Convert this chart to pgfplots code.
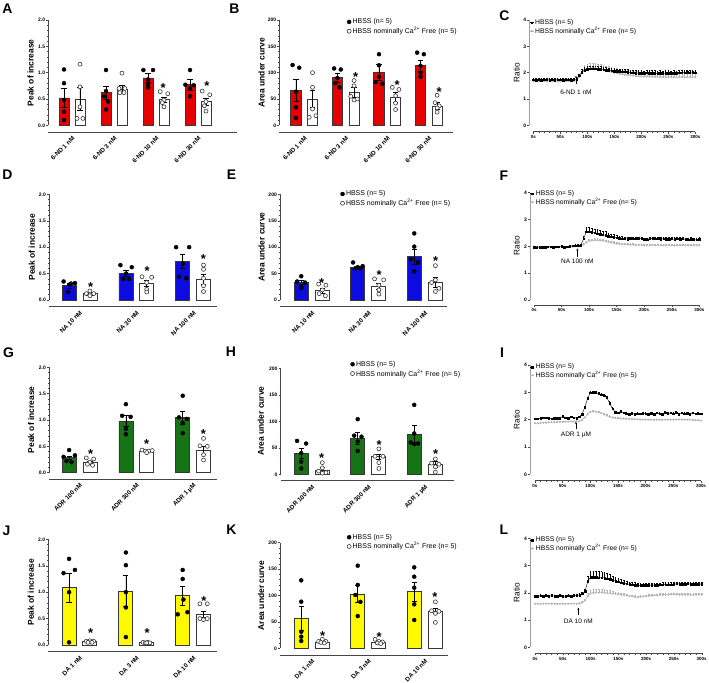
\documentclass[border=0pt]{standalone}
\usepackage{pgfplots}
\pgfplotsset{compat=1.18}
\usepackage{pgfplotstable}
\usepackage{fontspec}
\setmainfont{Liberation Sans}
\usetikzlibrary{arrows.meta}

\definecolor{barred}{RGB}{230,0,0}
\definecolor{barblue}{RGB}{12,12,225}
\definecolor{bargreen}{RGB}{22,115,22}
\definecolor{baryellow}{RGB}{255,250,0}
\definecolor{edge}{RGB}{55,55,55}
\definecolor{axc}{RGB}{70,70,70}
\definecolor{axl}{RGB}{160,160,160}
\definecolor{gser}{RGB}{180,180,180}

\newcommand{\fsz}[1]{\fontsize{#1}{#1}\selectfont}
\newcommand{\cafree}{HBSS nominally Ca\textsuperscript{2+} Free (n= 5)}

% ---------- time courses: t, HBSS mean/SEM, Ca-free mean/SEM ----------
\pgfplotstableread{
t b be g ge
0 1.73 0.06 1.68 0.10
5 1.72 0.06 1.68 0.10
10 1.73 0.06 1.67 0.10
15 1.72 0.06 1.68 0.10
20 1.73 0.06 1.68 0.10
25 1.73 0.06 1.67 0.10
30 1.72 0.06 1.68 0.10
35 1.73 0.06 1.68 0.10
40 1.72 0.06 1.68 0.10
45 1.73 0.06 1.68 0.10
50 1.73 0.06 1.67 0.10
55 1.72 0.06 1.68 0.10
60 1.73 0.06 1.68 0.10
65 1.73 0.06 1.68 0.10
70 1.72 0.06 1.68 0.10
75 1.73 0.06 1.68 0.10
80 1.76 0.07 1.72 0.10
85 1.88 0.08 1.84 0.12
90 2.02 0.10 2.00 0.15
95 2.10 0.10 2.10 0.18
100 2.14 0.10 2.15 0.18
105 2.15 0.10 2.17 0.18
110 2.15 0.10 2.17 0.18
115 2.15 0.10 2.17 0.18
120 2.14 0.10 2.15 0.18
125 2.13 0.10 2.13 0.18
130 2.11 0.10 2.10 0.18
135 2.10 0.10 2.08 0.18
140 2.09 0.10 2.05 0.18
145 2.07 0.10 2.02 0.18
150 2.06 0.10 2.00 0.18
155 2.05 0.10 1.98 0.18
160 2.05 0.10 1.96 0.18
165 2.04 0.10 1.94 0.18
170 2.03 0.10 1.92 0.18
175 2.02 0.10 1.91 0.18
180 2.00 0.10 1.90 0.18
185 1.99 0.10 1.88 0.18
190 1.98 0.10 1.87 0.18
195 1.98 0.10 1.86 0.18
200 1.98 0.10 1.86 0.18
205 1.97 0.10 1.85 0.18
210 1.99 0.10 1.85 0.18
215 1.98 0.10 1.85 0.18
220 1.98 0.10 1.84 0.18
225 1.98 0.10 1.84 0.18
230 1.97 0.10 1.84 0.18
235 1.98 0.10 1.83 0.18
240 1.97 0.10 1.83 0.18
245 1.98 0.10 1.83 0.18
250 1.98 0.10 1.83 0.18
255 1.97 0.10 1.83 0.18
260 1.98 0.10 1.83 0.18
265 1.97 0.10 1.83 0.18
270 1.99 0.10 1.83 0.18
275 2.00 0.10 1.83 0.18
280 2.00 0.10 1.83 0.18
285 2.01 0.10 1.83 0.18
290 2.00 0.10 1.83 0.18
295 2.01 0.10 1.83 0.18
300 2.00 0.10 1.83 0.18
}\tabC

\pgfplotstableread{
t b be g ge
0 1.97 0.04 1.97 0.03
5 1.95 0.04 1.96 0.03
10 1.96 0.04 1.96 0.03
15 1.96 0.04 1.96 0.03
20 1.97 0.04 1.97 0.03
25 1.98 0.04 1.97 0.03
30 1.98 0.04 1.97 0.03
35 1.97 0.04 1.97 0.03
40 1.98 0.04 1.98 0.03
45 1.98 0.04 1.98 0.03
50 2.00 0.04 1.98 0.03
55 1.97 0.04 1.98 0.03
60 1.98 0.04 1.98 0.03
65 2.00 0.04 1.99 0.03
70 2.02 0.04 1.99 0.03
75 2.03 0.04 2.00 0.03
80 2.03 0.04 2.00 0.03
85 2.05 0.05 2.02 0.04
90 2.28 0.10 2.07 0.05
95 2.55 0.15 2.15 0.06
100 2.55 0.15 2.20 0.06
105 2.53 0.15 2.22 0.06
110 2.51 0.15 2.23 0.06
115 2.48 0.15 2.23 0.06
120 2.46 0.15 2.22 0.06
125 2.43 0.15 2.21 0.06
130 2.41 0.15 2.19 0.06
135 2.38 0.12 2.17 0.06
140 2.36 0.10 2.14 0.06
145 2.34 0.10 2.12 0.06
150 2.32 0.10 2.10 0.05
155 2.30 0.08 2.09 0.05
160 2.29 0.08 2.08 0.05
165 2.28 0.08 2.08 0.05
170 2.27 0.08 2.07 0.05
175 2.30 0.06 2.06 0.05
180 2.28 0.06 2.06 0.05
185 2.30 0.06 2.05 0.05
190 2.28 0.06 2.05 0.05
195 2.30 0.06 2.05 0.05
200 2.26 0.06 2.04 0.05
205 2.25 0.06 2.04 0.05
210 2.29 0.06 2.04 0.05
215 2.30 0.06 2.05 0.05
220 2.28 0.06 2.04 0.05
225 2.30 0.06 2.05 0.05
230 2.27 0.06 2.04 0.05
235 2.28 0.06 2.04 0.05
240 2.27 0.06 2.04 0.05
245 2.27 0.06 2.05 0.05
250 2.28 0.06 2.04 0.05
255 2.27 0.06 2.03 0.05
260 2.28 0.06 2.04 0.05
265 2.27 0.06 2.04 0.05
270 2.28 0.06 2.04 0.05
275 2.26 0.06 2.04 0.05
280 2.24 0.06 2.04 0.05
285 2.27 0.06 2.04 0.05
290 2.25 0.06 2.04 0.05
295 2.24 0.06 2.04 0.05
300 2.27 0.06 2.05 0.05
}\tabF

\pgfplotstableread{
t b be g ge
0 2.03 0.03 1.87 0.02
5 2.04 0.03 1.87 0.02
10 2.05 0.03 1.88 0.02
15 2.08 0.03 1.89 0.02
20 2.07 0.03 1.89 0.02
25 2.05 0.03 1.90 0.02
30 2.04 0.03 1.91 0.02
35 2.05 0.03 1.91 0.02
40 2.06 0.03 1.91 0.02
45 2.06 0.03 1.92 0.02
50 2.12 0.03 1.92 0.02
55 2.08 0.03 1.92 0.02
60 2.05 0.03 1.93 0.02
65 2.10 0.03 1.93 0.02
70 2.08 0.03 1.93 0.02
75 2.06 0.03 1.94 0.02
80 2.10 0.03 1.94 0.02
85 2.20 0.04 1.98 0.03
90 2.45 0.05 2.08 0.03
95 2.78 0.06 2.20 0.04
100 2.98 0.06 2.28 0.04
105 3.00 0.06 2.30 0.04
110 2.98 0.06 2.29 0.04
115 2.95 0.06 2.27 0.04
120 2.92 0.06 2.24 0.04
125 2.88 0.06 2.19 0.04
130 2.80 0.06 2.15 0.04
135 2.60 0.06 2.11 0.04
140 2.40 0.05 2.08 0.03
145 2.28 0.04 2.06 0.03
150 2.25 0.04 2.05 0.03
155 2.30 0.04 2.04 0.03
160 2.25 0.04 2.04 0.03
165 2.22 0.04 2.03 0.03
170 2.20 0.04 2.03 0.03
175 2.24 0.04 2.02 0.02
180 2.20 0.04 2.02 0.02
185 2.22 0.04 2.01 0.02
190 2.21 0.04 2.01 0.02
195 2.22 0.04 2.00 0.02
200 2.22 0.04 2.00 0.02
205 2.20 0.04 2.00 0.02
210 2.24 0.04 2.00 0.02
215 2.20 0.04 1.99 0.02
220 2.25 0.04 2.00 0.02
225 2.22 0.04 2.00 0.02
230 2.20 0.04 1.99 0.02
235 2.26 0.04 2.00 0.02
240 2.22 0.04 2.00 0.02
245 2.25 0.04 2.00 0.02
250 2.22 0.04 2.00 0.02
255 2.26 0.04 2.00 0.02
260 2.20 0.04 2.01 0.02
265 2.25 0.04 2.00 0.02
270 2.22 0.04 2.00 0.02
275 2.24 0.04 2.00 0.02
280 2.20 0.04 2.00 0.02
285 2.25 0.04 1.99 0.02
290 2.21 0.04 1.98 0.02
295 2.22 0.04 1.98 0.02
300 2.21 0.04 1.97 0.02
}\tabI

\pgfplotstableread{
t b be g ge
0 1.88 0.05 1.60 0.03
5 1.88 0.05 1.60 0.03
10 1.89 0.05 1.59 0.03
15 1.88 0.05 1.60 0.03
20 1.90 0.05 1.60 0.03
25 1.88 0.05 1.60 0.03
30 1.89 0.05 1.60 0.03
35 1.88 0.05 1.60 0.03
40 1.88 0.05 1.59 0.03
45 1.89 0.05 1.60 0.03
50 1.88 0.05 1.60 0.03
55 1.88 0.05 1.59 0.03
60 1.89 0.05 1.60 0.03
65 1.88 0.05 1.60 0.03
70 1.89 0.05 1.60 0.03
75 1.90 0.05 1.60 0.03
80 1.92 0.05 1.61 0.03
85 1.97 0.06 1.64 0.04
90 2.05 0.10 1.72 0.05
95 2.42 0.18 1.88 0.10
100 2.57 0.22 1.98 0.12
105 2.57 0.22 2.00 0.12
110 2.57 0.22 2.01 0.12
115 2.56 0.22 2.01 0.12
120 2.56 0.22 2.01 0.12
125 2.54 0.22 2.00 0.12
130 2.52 0.20 1.99 0.10
135 2.50 0.18 1.98 0.10
140 2.46 0.16 1.97 0.08
145 2.43 0.15 1.96 0.08
150 2.40 0.14 1.95 0.08
155 2.37 0.12 1.93 0.06
160 2.35 0.10 1.92 0.06
165 2.33 0.10 1.90 0.06
170 2.31 0.10 1.88 0.05
175 2.30 0.10 1.87 0.05
180 2.28 0.10 1.85 0.05
185 2.27 0.10 1.84 0.05
190 2.27 0.08 1.86 0.05
195 2.27 0.08 1.87 0.05
200 2.27 0.08 1.88 0.05
205 2.27 0.08 1.89 0.05
210 2.28 0.08 1.90 0.05
215 2.28 0.08 1.91 0.05
220 2.28 0.08 1.91 0.05
225 2.29 0.08 1.92 0.05
230 2.30 0.08 1.92 0.05
235 2.30 0.08 1.93 0.05
240 2.30 0.08 1.93 0.05
245 2.30 0.08 1.94 0.05
250 2.31 0.08 1.94 0.05
255 2.33 0.08 1.94 0.05
260 2.32 0.08 1.93 0.05
265 2.31 0.08 1.93 0.05
270 2.32 0.08 1.93 0.05
275 2.33 0.08 1.93 0.05
280 2.32 0.08 1.92 0.05
285 2.31 0.08 1.92 0.05
290 2.32 0.08 1.93 0.05
295 2.31 0.08 1.93 0.05
300 2.32 0.08 1.93 0.05
}\tabL

\pgfplotsset{
  panel/.style={scale only axis, clip=false, axis line style={draw=none},
    tick align=outside, ytick pos=left, xtick pos=bottom,
    major tick length=2bp, minor tick length=1.2bp,
    tick style={axc, line width=0.4bp},
    yticklabel style={font=\fsz{5}\bfseries, inner sep=1bp},
  },
  barpanel/.style={panel,
    xticklabel style={font=\fsz{6.3}\bfseries, rotate=45, anchor=north east, inner sep=1bp},
    every x tick/.style={draw=none},
    minor y tick num=4,
    ylabel style={font=\fsz{8.5}\bfseries, anchor=center},
    legend style={draw=none, fill=none, font=\fsz{7}, anchor=north west,
      row sep=-1bp, inner sep=0pt, nodes={inner sep=1.5bp}},
    legend cell align=left,
    legend image code/.code={\draw[mark repeat=2,mark phase=2,##1] plot coordinates {(0cm,0cm) (0.08cm,0cm) (0.16cm,0cm)};},
  },
  peak/.style={barpanel, ymin=#1, ymax=2, ytick={0,0.5,1,1.5,2},
    yticklabels={0.0,0.5,1.0,1.5,2.0}, ylabel={Peak of increase}},
  auc/.style={barpanel, ymin=#1, ymax=200, ytick={0,50,100,150,200},
    yticklabels={0,50,100,150,200}, ylabel={Area under curve}},
  tpanel/.style={panel, xmax=300, ymax=4,
    xtick={0,50,...,300}, xticklabels={0s,50s,100s,150s,200s,250s,300s},
    xticklabel style={font=\fsz{4.5}\bfseries, inner sep=1.5bp},
    minor x tick num=4,
    ytick={0,1,2,3,4}, yticklabels={0,1,2,3,4},
    ylabel={Ratio}, ylabel style={font=\fsz{8.3}, anchor=center},
    legend style={draw=none, fill=none, font=\fsz{6.8}, anchor=north west,
      row sep=-1.5bp, inner sep=0pt, nodes={inner sep=1.3bp}},
    legend cell align=left, reverse legend,
    legend image code/.code={\draw[mark repeat=2,mark phase=2,##1] plot coordinates {(0cm,0cm) (0.07cm,0cm) (0.14cm,0cm)};},
  },
  bars/.style={ybar, forget plot, bar width=#1, bar shift=0pt, draw=edge, line width=0.8bp,
    error bars/y dir=both, error bars/y explicit,
    error bars/error bar style={black, line width=0.6bp},
    error bars/error mark options={rotate=90, mark size=2.6bp, line width=0.6bp, black}},
  fdot/.style={only marks, mark=*, mark size=2bp, mark options={fill=black, draw=black}},
  odot/.style={only marks, mark=*, mark size=2bp, mark options={fill=white, draw=edge, line width=0.6bp}},
  star/.style={forget plot, draw=none, mark=none, nodes near coords={*},
    nodes near coords style={font=\fsz{13}\bfseries, anchor=center, yshift=-2.5bp, inner sep=0pt}},
  hbss/.style={black, line width=0.4bp, mark=square*, mark size=0.75bp,
    error bars/y dir=plus, error bars/y explicit,
    error bars/error bar style={black, line width=0.25bp},
    error bars/error mark options={rotate=90, mark size=0.8bp, line width=0.25bp, black}},
  cfree/.style={gser, line width=0.4bp, mark=*, mark size=0.85bp,
    error bars/y dir=plus, error bars/y explicit,
    error bars/error bar style={gser, line width=0.25bp},
    error bars/error mark options={rotate=90, mark size=0.8bp, line width=0.25bp, gser}},
}

% axis lines of the bar panels: y axis from 0 up, x axis offset below
\newcommand{\baraxes}{%
  \draw[axc, line width=0.6bp] ({rel axis cs:0,0}|-{axis cs:1,0}) -- (rel axis cs:0,1);
  \draw[axc, line width=0.6bp] (rel axis cs:0,0) -- (rel axis cs:1,0);}
\newcommand{\taxes}{%
  \draw[axl, line width=0.6bp] ({rel axis cs:0,0}|-{axis cs:0,0}) -- (rel axis cs:0,1);
  \draw[axc, line width=0.6bp] ({axis cs:0,0}|-{rel axis cs:0,0}) -- ({axis cs:300,0}|-{rel axis cs:0,0});}

\begin{document}
\begin{tikzpicture}
\path[use as bounding box] (0,0) rectangle (709bp,683bp);

% panel letters
\begin{scope}[every node/.style={font=\fsz{14}\bfseries, inner sep=0pt, anchor=center}]
\node at (7.5bp,674.5bp) {A};
\node at (234.5bp,674.5bp) {B};
\node at (504.5bp,667.7bp) {C};
\node at (7.5bp,508.5bp) {D};
\node at (231.5bp,508.7bp) {E};
\node at (503.8bp,507.2bp) {F};
\node at (8.5bp,330bp) {G};
\node at (231bp,331bp) {H};
\node at (502bp,330.7bp) {I};
\node at (6.5bp,152bp) {J};
\node at (231.5bp,153bp) {K};
\node at (503.8bp,153.3bp) {L};
\end{scope}

% ===================== A =====================
\begin{axis}[peak=-0.133, at={(48.3bp,550.7bp)}, anchor=south west,
  width=188.2bp, height=112.3bp, xmin=0.436, xmax=4.917,
  xtick={1,2,3,4}, xticklabels={6-ND 1 nM,6-ND 3 nM,6-ND 10 nM,6-ND 30 nM},
  ylabel style={at={(axis description cs:-0.0935,0.53)}}]
\baraxes
\addplot[bars=10bp, fill=barred] coordinates
  {(0.81,0.52)+-(0,0.18) (1.81,0.62)+-(0,0.12) (2.81,0.90)+-(0,0.08) (3.81,0.77)+-(0,0.10)};
\addplot[bars=10bp, fill=white] coordinates
  {(1.19,0.50)+-(0,0.22) (2.19,0.69)+-(0,0.07) (3.19,0.49)+-(0,0.05) (4.19,0.45)+-(0,0.07)};
\addplot[fdot, forget plot] coordinates {
  (0.81,1.06) (0.81,0.80) (0.81,0.48) (0.81,0.26) (0.81,0.10)
  (1.81,1.05) (1.81,0.65) (1.76,0.55) (1.86,0.45) (1.81,0.30)
  (2.70,1.05) (2.93,1.05) (2.81,0.87) (2.81,0.78) (2.81,0.72)
  (3.81,1.05) (3.70,0.77) (3.90,0.76) (3.81,0.70) (3.81,0.55)};
\addplot[odot, forget plot] coordinates {
  (1.19,1.16) (1.19,0.73) (1.19,0.35) (1.12,0.13) (1.26,0.13)
  (2.19,0.99) (2.12,0.70) (2.26,0.70) (2.14,0.62) (2.24,0.62)
  (3.10,0.64) (3.28,0.60) (3.19,0.48) (3.15,0.43) (3.19,0.35)
  (4.10,0.65) (4.28,0.58) (4.19,0.45) (4.15,0.37) (4.19,0.27)};
\addplot[star] coordinates {(3.17,0.76) (4.21,0.79)};
\end{axis}

% ===================== B =====================
\begin{axis}[auc=-13.3, at={(279.3bp,550.7bp)}, anchor=south west,
  width=173.4bp, height=112.3bp, xmin=0.400, xmax=4.575,
  xtick={1,2,3,4}, xticklabels={6-ND 1 nM,6-ND 3 nM,6-ND 10 nM,6-ND 30 nM},
  ylabel style={at={(axis description cs:-0.1015,0.53)}},
  legend style={at={(axis description cs:0.39,1.027)}}]
\baraxes
\addplot[bars=10.3bp, fill=barred] coordinates
  {(0.8,66.4)+-(0,20.5) (1.8,90.4)+-(0,8) (2.8,100.6)+-(0,15) (3.8,113.3)+-(0,10.7)};
\addplot[bars=10.3bp, fill=white] coordinates
  {(1.2,50)+-(0,16) (2.2,62.6)+-(0,9.5) (3.2,53.2)+-(0,8.8) (4.2,36.7)+-(0,6.3)};
\addplot[fdot] coordinates {
  (0.72,114.5) (0.88,109.4) (0.8,63.8) (0.8,34.2) (0.8,13.9)
  (1.72,108) (1.88,106) (1.8,90) (1.75,80) (1.85,72)
  (2.8,135) (2.8,114) (2.8,92) (2.72,82) (2.88,79)
  (3.72,138) (3.88,135) (3.8,113) (3.8,100) (3.8,92)};
\addlegendentry{HBSS (n= 5)}
\addplot[odot] coordinates {
  (1.2,99.9) (1.2,72.2) (1.2,31) (1.12,15.2) (1.28,18.2)
  (2.2,85) (2.2,75) (2.12,55) (2.28,50) (2.2,48)
  (3.12,72) (3.28,68) (3.2,56) (3.2,42) (3.2,30)
  (4.2,57) (4.15,43) (4.25,37) (4.2,33) (4.2,25)};
\addlegendentry{\cafree}
\addplot[star] coordinates {(2.24,97) (3.24,81) (4.25,67)};
\end{axis}

% ===================== C =====================
\begin{axis}[tpanel, at={(529.3bp,551.3bp)}, anchor=south west,
  width=166bp, height=111.7bp, xmin=-7.4, ymin=-0.243,
  ylabel style={at={(axis description cs:-0.076,0.53)}},
  legend style={at={(axis description cs:0.0,1.018)}}]
\taxes
\addplot[cfree] table[x=t, y=g, y error=ge] {\tabC};
\addlegendentry{\cafree}
\addplot[hbss] table[x=t, y=b, y error=be] {\tabC};
\addlegendentry{HBSS (n= 5)}
\draw[-{Stealth[length=2bp,width=2bp]}, line width=0.4bp] (axis cs:79,1.55) -- (axis cs:79,1.88);
\node[font=\fsz{6.5}] at (axis cs:79,1.25) {6-ND 1 nM};
\end{axis}

% ===================== D =====================
\begin{axis}[peak=-0.127, at={(49bp,376.3bp)}, anchor=south west,
  width=167.7bp, height=112.4bp, xmin=0.463, xmax=3.415,
  xtick={1,2,3}, xticklabels={NA 10 nM,NA 30 nM,NA 100 nM},
  ylabel style={at={(axis description cs:-0.103,0.53)}}]
\baraxes
\addplot[bars=14bp, fill=barblue] coordinates
  {(0.817,0.27)+-(0,0.04) (1.817,0.505)+-(0,0.05) (2.817,0.726)+-(0,0.13)};
\addplot[bars=14bp, fill=white] coordinates
  {(1.183,0.12)+-(0,0.03) (2.183,0.31)+-(0,0.06) (3.183,0.39)+-(0,0.10)};
\addplot[fdot, forget plot] coordinates {
  (0.72,0.35) (0.85,0.31) (0.92,0.32) (0.82,0.29) (0.80,0.15)
  (1.72,0.66) (1.92,0.62) (1.82,0.50) (1.77,0.40) (1.87,0.40)
  (2.70,1.00) (2.93,1.00) (2.82,0.69) (2.75,0.44) (2.88,0.41)};
\addplot[odot, forget plot] coordinates {
  (1.183,0.17) (1.12,0.12) (1.25,0.12) (1.183,0.10) (1.183,0.08)
  (2.10,0.44) (2.27,0.43) (2.183,0.33) (2.183,0.20) (2.183,0.15)
  (3.183,0.66) (3.183,0.58) (3.183,0.41) (3.183,0.27) (3.183,0.16)};
\addplot[star] coordinates {(1.197,0.30) (2.19,0.59) (3.18,0.82)};
\end{axis}

% ===================== E =====================
\begin{axis}[auc=-12.7, at={(280bp,376.3bp)}, anchor=south west,
  width=166.7bp, height=112.4bp, xmin=0.437, xmax=3.387,
  xtick={1,2,3}, xticklabels={NA 10 nM,NA 30 nM,NA 100 nM},
  ylabel style={at={(axis description cs:-0.110,0.53)}},
  legend style={at={(axis description cs:0.362,1.047)}}]
\baraxes
\addplot[bars=14bp, fill=barblue] coordinates
  {(0.813,33)+-(0,4) (1.813,62)+-(0,2.5) (2.813,82)+-(0,14)};
\addplot[bars=14bp, fill=white] coordinates
  {(1.187,18)+-(0,4.5) (2.187,26)+-(0,5) (3.187,33)+-(0,9)};
\addplot[fdot] coordinates {
  (0.813,45) (0.74,35) (0.88,33) (0.813,25) (0.813,23)
  (1.73,71) (1.90,64) (1.813,62) (1.77,60) (1.86,60)
  (2.813,126) (2.813,101) (2.75,77) (2.88,71) (2.813,54)};
\addlegendentry{HBSS (n= 5)}
\addplot[odot] coordinates {
  (1.12,30) (1.25,28) (1.187,19) (1.13,12) (1.24,8)
  (2.11,40) (2.27,38) (2.187,28) (2.187,19) (2.187,11)
  (3.187,65) (3.187,38) (3.12,33) (3.25,22) (3.187,16)};
\addlegendentry{\cafree}
\addplot[star] coordinates {(1.175,37) (2.19,52) (3.19,79)};
\end{axis}

% ===================== F =====================
\begin{axis}[tpanel, at={(530bp,378bp)}, anchor=south west,
  width=169.3bp, height=112.3bp, xmin=-7.3, ymin=-0.186,
  ylabel style={at={(axis description cs:-0.0786,0.53)}},
  legend style={at={(axis description cs:0.0,1.033)}}]
\taxes
\addplot[cfree] table[x=t, y=g, y error=ge] {\tabF};
\addlegendentry{\cafree}
\addplot[hbss] table[x=t, y=b, y error=be] {\tabF};
\addlegendentry{HBSS (n= 5)}
\draw[-{Stealth[length=2bp,width=2bp]}, line width=0.4bp] (axis cs:78.6,1.62) -- (axis cs:78.6,1.92);
\node[font=\fsz{6.5}] at (axis cs:78.6,1.43) {NA 100 nM};
\end{axis}

% ===================== G =====================
\begin{axis}[peak=-0.12, at={(49bp,204bp)}, anchor=south west,
  width=167.7bp, height=111.7bp, xmin=0.463, xmax=3.415,
  xtick={1,2,3}, xticklabels={ADR 100 nM,ADR 300 nM,ADR 1 µM},
  ylabel style={at={(axis description cs:-0.107,0.53)}}]
\baraxes
\addplot[bars=14bp, fill=bargreen] coordinates
  {(0.817,0.285)+-(0,0.035) (1.817,0.98)+-(0,0.10) (2.817,1.04)+-(0,0.12)};
\addplot[bars=14bp, fill=white] coordinates
  {(1.183,0.19)+-(0,0.03) (2.183,0.40)+-(0,0.02) (3.183,0.43)+-(0,0.08)};
\addplot[fdot, forget plot] coordinates {
  (0.817,0.43) (0.72,0.30) (0.92,0.33) (0.77,0.22) (0.86,0.20)
  (1.817,1.30) (1.75,1.08) (1.90,1.06) (1.817,0.83) (1.817,0.73)
  (2.817,1.46) (2.75,1.05) (2.89,1.02) (2.817,0.94) (2.817,0.75)};
\addplot[odot, forget plot] coordinates {
  (1.12,0.28) (1.25,0.26) (1.183,0.20) (1.14,0.16) (1.23,0.14)
  (2.10,0.43) (2.16,0.41) (2.22,0.41) (2.28,0.42) (2.183,0.38)
  (3.183,0.65) (3.12,0.51) (3.25,0.50) (3.183,0.34) (3.183,0.24)};
\addplot[star] coordinates {(1.197,0.40) (2.183,0.59) (3.18,0.78)};
\end{axis}

% ===================== H =====================
\begin{axis}[auc=-12.1, at={(280.7bp,202.3bp)}, anchor=south west,
  width=173.3bp, height=112.4bp, xmin=0.450, xmax=3.517,
  xtick={1,2,3}, xticklabels={ADR 100 nM,ADR 300 nM,ADR 1 µM},
  ylabel style={at={(axis description cs:-0.114,0.53)}},
  legend style={at={(axis description cs:0.402,1.08)}}]
\baraxes
\addplot[bars=14bp, fill=bargreen] coordinates
  {(0.813,39.6)+-(0,9.5) (1.813,68)+-(0,10.5) (2.813,76)+-(0,15.5)};
\addplot[bars=14bp, fill=white] coordinates
  {(1.187,8.2)+-(0,4.4) (2.187,33.3)+-(0,4.4) (3.187,18.9)+-(0,5)};
\addplot[fdot] coordinates {
  (0.74,63) (0.90,58) (0.813,40) (0.813,24) (0.813,11)
  (1.813,104) (1.75,73) (1.88,71) (1.813,62) (1.813,44)
  (2.813,131) (2.813,77) (2.75,60) (2.88,58) (2.813,57)};
\addlegendentry{HBSS (n= 5)}
\addplot[odot] coordinates {
  (1.187,22) (1.187,12) (1.12,6) (1.25,3) (1.187,2)
  (2.187,48) (2.12,34) (2.26,34) (2.187,22) (2.187,11)
  (3.187,29) (3.12,21) (3.25,19) (3.187,14) (3.187,4)};
\addlegendentry{\cafree}
\addplot[star] coordinates {(1.175,35) (2.19,60) (3.19,43)};
\end{axis}

% ===================== I =====================
\begin{axis}[tpanel, at={(530bp,202.3bp)}, anchor=south west,
  width=171bp, height=115.7bp, xmin=-9.0, ymin=-0.234,
  ylabel style={at={(axis description cs:-0.078,0.53)}},
  legend style={at={(axis description cs:0.0,1.021)}}]
\taxes
\addplot[cfree] table[x=t, y=g, y error=ge] {\tabI};
\addlegendentry{\cafree}
\addplot[hbss] table[x=t, y=b, y error=be] {\tabI};
\addlegendentry{HBSS (n= 5)}
\draw[-{Stealth[length=2bp,width=2bp]}, line width=0.4bp] (axis cs:74,1.65) -- (axis cs:74,1.92);
\node[font=\fsz{6.5}] at (axis cs:74,1.44) {ADR 1 µM};
\end{axis}

% ===================== J =====================
\begin{axis}[peak=-0.127, at={(48.3bp,31.3bp)}, anchor=south west,
  width=168.4bp, height=112.4bp, xmin=0.451, xmax=3.416,
  xtick={1,2,3}, xticklabels={DA 1 nM,DA 3 nM,DA 10 nM},
  ylabel style={at={(axis description cs:-0.103,0.53)}}]
\baraxes
\addplot[bars=14bp, fill=baryellow] coordinates
  {(0.817,1.085)+-(0,0.27) (1.817,1.02)+-(0,0.29) (2.817,0.93)+-(0,0.18)};
\addplot[bars=14bp, fill=white] coordinates
  {(1.183,0.063)+-(0,0.01) (2.183,0.045)+-(0,0.005) (3.183,0.58)+-(0,0.06)};
\addplot[fdot, forget plot] coordinates {
  (0.817,1.63) (0.92,1.42) (0.72,1.36) (0.817,1.00) (0.817,0.05)
  (1.817,1.75) (1.817,1.51) (1.817,1.00) (1.817,0.71) (1.817,0.15)
  (2.817,1.42) (2.817,1.25) (2.83,0.86) (2.73,0.58) (2.90,0.62)};
\addplot[odot, forget plot] coordinates {
  (1.12,0.07) (1.183,0.08) (1.25,0.07) (1.15,0.05) (1.22,0.05)
  (2.12,0.05) (2.16,0.04) (2.20,0.05) (2.24,0.04) (2.183,0.04)
  (3.12,0.78) (3.25,0.78) (3.12,0.50) (3.25,0.50) (3.183,0.48)};
\addplot[star] coordinates {(1.197,0.265) (2.19,0.265) (3.19,0.88)};
\end{axis}

% ===================== K =====================
\begin{axis}[auc=-12.7, at={(280bp,28bp)}, anchor=south west,
  width=168.3bp, height=112.3bp, xmin=0.437, xmax=3.416,
  xtick={1,2,3}, xticklabels={DA 1 nM,DA 3 nM,DA 10 nM},
  ylabel style={at={(axis description cs:-0.113,0.53)}},
  legend style={at={(axis description cs:0.398,1.093)}}]
\baraxes
\addplot[bars=14bp, fill=baryellow] coordinates
  {(0.813,56.8)+-(0,22) (1.813,102.8)+-(0,16) (2.813,107.3)+-(0,18.5)};
\addplot[bars=14bp, fill=white] coordinates
  {(1.187,12)+-(0,2) (2.187,10.7)+-(0,2) (3.187,70.7)+-(0,5)};
\addplot[fdot] coordinates {
  (0.813,128.7) (0.813,88.3) (0.813,31.5) (0.813,22) (0.813,13.9)
  (1.813,156.5) (1.813,120) (1.77,101) (1.86,88) (1.813,61)
  (2.813,153.3) (2.813,135.6) (2.813,114.8) (2.813,83.3) (2.813,53.6)};
\addlegendentry{HBSS (n= 5)}
\addplot[odot] coordinates {
  (1.187,17) (1.12,13) (1.25,13) (1.16,11) (1.22,10)
  (2.12,17) (2.187,13) (2.25,12) (2.16,10) (2.22,9)
  (3.187,88) (3.12,71) (3.25,70) (3.187,66) (3.187,49)};
\addlegendentry{\cafree}
\addplot[star] coordinates {(1.19,28.4) (2.19,26.5) (3.18,101)};
\end{axis}

% ===================== L =====================
\begin{axis}[tpanel, at={(530bp,29.7bp)}, anchor=south west,
  width=171.7bp, height=115bp, xmin=-9.0, ymin=-0.22,
  ylabel style={at={(axis description cs:-0.077,0.53)}},
  legend style={at={(axis description cs:0.0,1.024)}}]
\taxes
\addplot[cfree] table[x=t, y=g, y error=ge] {\tabL};
\addlegendentry{\cafree}
\addplot[hbss] table[x=t, y=b, y error=be] {\tabL};
\addlegendentry{HBSS (n= 5)}
\draw[-{Stealth[length=2bp,width=2bp]}, line width=0.4bp] (axis cs:78,1.20) -- (axis cs:78,1.45);
\node[font=\fsz{6.5}] at (axis cs:78,0.94) {DA 10 nM};
\end{axis}

\end{tikzpicture}
\end{document}
